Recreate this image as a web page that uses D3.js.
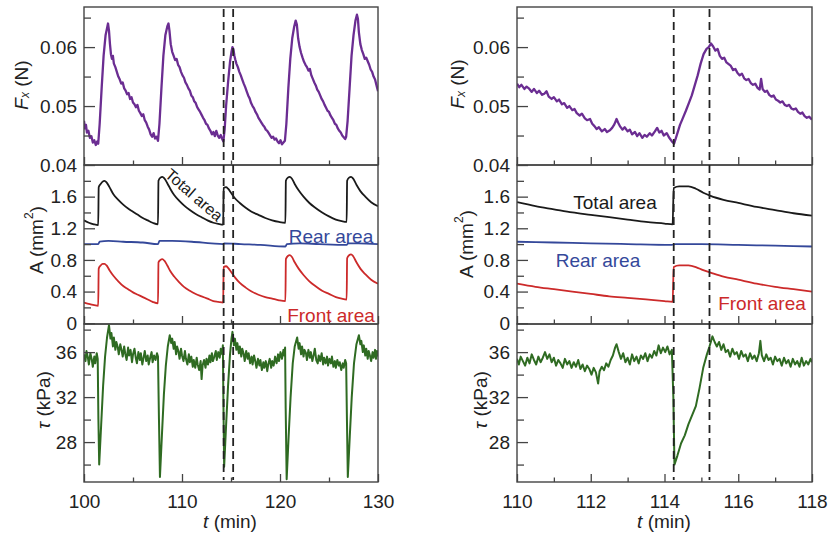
<!DOCTYPE html>
<html><head><meta charset="utf-8">
<script src="https://cdn.jsdelivr.net/npm/d3@7"></script>
<style>
body{margin:0;background:#fff}
svg{display:block}
text{font-family:"Liberation Sans",Arial,Helvetica,sans-serif}
</style>
</head><body>
<svg id="c" width="829" height="537"></svg>
<script>
// ---------- DATA ----------
const leftTimeTicks = [100, 110, 120, 130];
const leftTimeMinor = [105, 115, 125];
const rightTimeTicks = [110, 112, 114, 116, 118];
const rightTimeMinor = [111, 113, 115, 117];
const dashedTimes = [114.25, 115.22];

const fxTicks = [0.04, 0.05, 0.06];
const fxMinor = [0.045, 0.055, 0.065];
const areaTicks = [0, 0.4, 0.8, 1.2, 1.6];
const areaMinor = [0.2, 0.6, 1.0, 1.4, 1.8];
const tauTicks = [28, 32, 36];
const tauMinor = [26, 30, 34, 38];

const fxLeft = [[100.0,0.0475],[100.1,0.0462],[100.2,0.0468],[100.3,0.0455],[100.45,0.0458],[100.6,0.0446],[100.75,0.0449],[100.9,0.0438],[101.05,0.0442],[101.2,0.0434],[101.35,0.0440],[101.45,0.0436],
[101.6,0.0470],[101.8,0.0530],[102.0,0.0585],[102.2,0.0620],[102.35,0.0632],[102.45,0.0640],[102.55,0.0628],[102.65,0.0605],[102.75,0.0588],[102.85,0.0580],[102.95,0.0585],[103.05,0.0572],[103.2,0.0566],[103.35,0.0558],[103.5,0.0550],[103.65,0.0545],[103.8,0.0538],[103.95,0.0540],[104.1,0.0530],[104.25,0.0526],[104.4,0.0520],[104.55,0.0522],[104.7,0.0512],[104.85,0.0515],[105.0,0.0506],[105.15,0.0503],[105.3,0.0498],[105.45,0.0502],[105.6,0.0492],[105.75,0.0488],[105.9,0.0483],[106.05,0.0486],[106.2,0.0476],[106.35,0.0472],[106.5,0.0465],[106.65,0.0460],[106.8,0.0452],[106.95,0.0448],[107.1,0.0454],[107.25,0.0445],[107.4,0.0448],[107.55,0.0441],
[107.7,0.0470],[107.9,0.0530],[108.1,0.0585],[108.3,0.0620],[108.5,0.0635],[108.62,0.0640],[108.72,0.0628],[108.85,0.0605],[109.0,0.0592],[109.15,0.0585],[109.3,0.0578],[109.45,0.0580],[109.6,0.0570],[109.75,0.0566],[109.9,0.0558],[110.05,0.0552],[110.2,0.0548],[110.35,0.0540],[110.5,0.0536],[110.65,0.0530],[110.8,0.0526],[110.95,0.0518],[111.1,0.0515],[111.25,0.0508],[111.4,0.0505],[111.55,0.0498],[111.7,0.0494],[111.85,0.0490],[112.0,0.0485],[112.15,0.0480],[112.3,0.0476],[112.45,0.0470],[112.6,0.0468],[112.75,0.0462],[112.9,0.0458],[113.05,0.0452],[113.2,0.0456],[113.35,0.0449],[113.5,0.0458],[113.65,0.0450],[113.8,0.0446],[113.95,0.0451],[114.1,0.0444],[114.22,0.0440],
[114.35,0.0460],[114.5,0.0500],[114.7,0.0540],[114.9,0.0575],[115.05,0.0592],[115.15,0.0600],[115.25,0.0596],[115.35,0.0585],[115.45,0.0578],[115.55,0.0572],[115.7,0.0566],[115.85,0.0558],[116.0,0.0552],[116.15,0.0545],[116.3,0.0538],[116.45,0.0532],[116.6,0.0525],[116.75,0.0518],[116.9,0.0513],[117.05,0.0505],[117.2,0.0500],[117.35,0.0496],[117.5,0.0490],[117.65,0.0486],[117.8,0.0480],[117.95,0.0476],[118.1,0.0472],[118.25,0.0468],[118.4,0.0465],[118.55,0.0460],[118.7,0.0458],[118.85,0.0454],[119.0,0.0450],[119.15,0.0446],[119.3,0.0448],[119.45,0.0443],[119.6,0.0445],[119.75,0.0440],[119.9,0.0437],[120.05,0.0442],[120.2,0.0435],[120.35,0.0438],[120.5,0.0441],
[120.65,0.0470],[120.85,0.0530],[121.05,0.0580],[121.25,0.0615],[121.45,0.0635],[121.6,0.0645],[121.72,0.0638],[121.85,0.0615],[122.0,0.0600],[122.15,0.0590],[122.3,0.0582],[122.45,0.0575],[122.6,0.0570],[122.75,0.0566],[122.9,0.0560],[123.05,0.0563],[123.2,0.0552],[123.35,0.0546],[123.5,0.0540],[123.65,0.0535],[123.8,0.0528],[123.95,0.0524],[124.1,0.0518],[124.25,0.0512],[124.4,0.0508],[124.55,0.0502],[124.7,0.0497],[124.85,0.0492],[125.0,0.0490],[125.15,0.0484],[125.3,0.0480],[125.45,0.0476],[125.6,0.0470],[125.75,0.0468],[125.9,0.0462],[126.05,0.0458],[126.2,0.0455],[126.35,0.0450],[126.5,0.0447],[126.65,0.0444],[126.75,0.0448],
[126.9,0.0475],[127.1,0.0530],[127.3,0.0585],[127.5,0.0620],[127.7,0.0645],[127.85,0.0655],[127.95,0.0648],[128.05,0.0625],[128.2,0.0605],[128.35,0.0595],[128.5,0.0588],[128.65,0.0580],[128.8,0.0582],[128.95,0.0576],[129.1,0.0570],[129.25,0.0562],[129.4,0.0558],[129.55,0.0550],[129.7,0.0545],[129.85,0.0535],[130.0,0.0525]];

const totalLeft = [[100.0,1.30],[100.5,1.27],[101.0,1.25],[101.45,1.24],[101.5,1.72],[101.7,1.76],[101.9,1.79],[102.1,1.80],[102.3,1.78],[102.6,1.72],[103.0,1.63],[103.5,1.56],[104.0,1.50],[104.5,1.45],[105.0,1.41],[105.5,1.37],[106.0,1.33],[106.5,1.30],[107.0,1.27],[107.55,1.25],[107.6,1.80],[107.8,1.84],[108.0,1.85],[108.2,1.83],[108.5,1.77],[108.8,1.70],[109.2,1.62],[109.7,1.55],[110.2,1.49],[110.8,1.43],[111.4,1.38],[112.0,1.34],[112.6,1.30],[113.2,1.27],[113.7,1.255],[114.2,1.245],[114.25,1.71],[114.5,1.72],[114.7,1.70],[115.0,1.65],[115.4,1.58],[115.9,1.52],[116.5,1.46],[117.1,1.41],[117.8,1.37],[118.5,1.33],[119.2,1.30],[119.9,1.28],[120.55,1.27],[120.6,1.80],[120.8,1.84],[121.0,1.85],[121.2,1.83],[121.5,1.76],[121.9,1.68],[122.4,1.60],[123.0,1.52],[123.6,1.46],[124.3,1.40],[125.0,1.35],[125.7,1.31],[126.3,1.29],[126.8,1.28],[126.85,1.80],[127.05,1.84],[127.25,1.85],[127.45,1.83],[127.8,1.75],[128.2,1.67],[128.7,1.60],[129.3,1.53],[130.0,1.48]];

const rearLeft = [[100.0,1.00],[101.45,1.00],[101.6,1.03],[102.5,1.04],[104.0,1.03],[106.0,1.02],[107.55,1.00],[107.7,1.04],[109.0,1.04],[111.0,1.03],[113.0,1.01],[114.2,1.00],[114.3,1.01],[116.0,1.00],[118.0,0.99],[120.55,0.97],[120.7,1.00],[122.0,1.01],[124.0,1.00],[126.8,0.99],[126.95,1.01],[128.0,1.01],[130.0,1.00]];

const frontLeft = [[100.0,0.26],[100.6,0.24],[101.45,0.22],[101.5,0.69],[101.7,0.73],[101.9,0.75],[102.1,0.75],[102.3,0.73],[102.6,0.67],[103.0,0.60],[103.5,0.53],[104.0,0.47],[104.5,0.43],[105.0,0.39],[105.5,0.36],[106.0,0.33],[106.5,0.30],[107.0,0.27],[107.55,0.25],[107.6,0.77],[107.8,0.80],[108.0,0.81],[108.2,0.79],[108.5,0.73],[108.8,0.66],[109.2,0.59],[109.7,0.52],[110.2,0.46],[110.8,0.41],[111.4,0.37],[112.0,0.34],[112.6,0.31],[113.2,0.28],[113.7,0.27],[114.2,0.26],[114.25,0.71],[114.5,0.72],[114.7,0.70],[115.0,0.65],[115.4,0.58],[115.9,0.51],[116.5,0.45],[117.1,0.40],[117.8,0.36],[118.5,0.33],[119.2,0.31],[119.9,0.29],[120.55,0.28],[120.6,0.81],[120.8,0.85],[121.0,0.86],[121.2,0.84],[121.5,0.77],[121.9,0.69],[122.4,0.61],[123.0,0.53],[123.6,0.47],[124.3,0.41],[125.0,0.37],[125.7,0.33],[126.3,0.31],[126.8,0.30],[126.85,0.82],[127.05,0.86],[127.25,0.87],[127.45,0.85],[127.8,0.77],[128.2,0.69],[128.7,0.62],[129.3,0.55],[130.0,0.50]];

const tauLeft = [[100.0,35.8],[100.15,35.2],[100.25,36.1],[100.4,35.5],[100.5,34.9],[100.65,35.9],[100.8,35.3],[100.9,34.7],[101.05,35.6],[101.15,35.0],[101.3,35.9],[101.4,35.4],
[101.47,30.0],[101.55,26.0],[101.75,29.5],[101.95,33.0],[102.15,35.6],[102.35,37.3],[102.55,38.4],
[102.7,37.2],[102.8,37.7],[102.95,36.5],[103.05,37.3],[103.2,36.2],[103.3,36.9],[103.45,36.4],[103.55,35.8],[103.7,36.7],[103.85,36.1],[103.95,35.6],[104.1,36.5],[104.2,35.9],[104.35,35.3],[104.5,36.4],[104.6,35.7],[104.75,36.2],[104.9,35.1],[105.0,35.8],[105.15,36.3],[105.3,35.4],[105.4,35.0],[105.55,36.0],[105.7,35.3],[105.8,35.9],[105.95,34.9],[106.1,35.6],[106.2,36.1],[106.35,35.2],[106.5,35.7],[106.6,34.9],[106.75,35.5],[106.9,36.0],[107.0,35.1],[107.15,35.7],[107.3,35.3],[107.45,35.9],[107.55,35.6],
[107.65,30.0],[107.75,24.9],[107.95,28.6],[108.15,32.2],[108.35,34.8],[108.55,36.5],[108.75,37.5],
[108.9,36.8],[109.0,37.2],[109.15,36.3],[109.25,36.9],[109.4,35.8],[109.5,36.5],[109.65,36.0],[109.75,35.4],[109.9,36.3],[110.0,35.7],[110.15,35.2],[110.3,36.1],[110.4,35.4],[110.55,34.9],[110.7,35.8],[110.8,35.1],[110.95,35.6],[111.1,34.7],[111.2,35.3],[111.35,34.6],[111.5,35.5],[111.6,34.9],[111.75,34.4],[111.9,35.2],[112.0,33.6],[112.1,34.8],[112.25,35.3],[112.4,34.6],[112.5,35.4],[112.65,34.9],[112.8,35.7],[112.9,35.1],[113.05,35.9],[113.15,35.2],[113.3,35.6],[113.45,36.1],[113.55,35.3],[113.7,36.0],[113.85,35.5],[113.95,36.3],[114.1,35.8],[114.17,36.6],
[114.22,32.0],[114.3,25.8],[114.5,29.5],[114.7,33.0],[114.9,35.8],[115.05,37.2],[115.15,37.8],
[115.3,36.6],[115.4,37.2],[115.55,36.2],[115.65,36.8],[115.8,35.9],[115.9,36.5],[116.05,35.6],[116.15,36.3],[116.3,35.8],[116.4,35.2],[116.55,36.1],[116.7,35.4],[116.8,35.9],[116.95,35.0],[117.1,35.6],[117.2,34.9],[117.35,35.7],[117.5,35.1],[117.6,34.6],[117.75,35.4],[117.9,34.8],[118.0,35.3],[118.15,34.4],[118.3,35.1],[118.4,34.6],[118.55,35.2],[118.7,34.3],[118.8,34.9],[118.95,35.4],[119.1,34.6],[119.2,35.2],[119.35,34.8],[119.5,35.6],[119.65,35.0],[119.8,35.8],[119.9,35.2],[120.05,36.0],[120.2,35.4],[120.35,36.2],[120.45,35.7],[120.52,36.4],
[120.58,31.0],[120.68,24.7],[120.88,28.5],[121.08,32.0],[121.3,35.0],[121.5,36.5],[121.75,37.3],
[121.9,36.3],[122.0,36.8],[122.15,35.8],[122.25,36.5],[122.4,35.6],[122.5,36.2],[122.65,35.9],[122.75,35.3],[122.9,36.2],[123.05,35.5],[123.15,36.0],[123.3,35.2],[123.45,35.8],[123.55,36.3],[123.7,35.3],[123.85,35.0],[123.95,35.7],[124.1,35.2],[124.25,35.9],[124.4,34.9],[124.5,35.5],[124.65,35.0],[124.8,35.6],[124.9,34.8],[125.05,35.4],[125.2,35.0],[125.3,35.6],[125.45,34.7],[125.6,35.2],[125.7,34.6],[125.85,35.3],[126.0,34.8],[126.1,35.1],[126.25,34.4],[126.4,35.0],[126.5,34.6],[126.65,35.3],[126.75,35.0],
[126.83,30.0],[126.92,24.9],[127.12,28.5],[127.32,32.0],[127.55,35.0],[127.8,36.7],[128.05,37.5],
[128.2,36.7],[128.3,37.0],[128.45,36.0],[128.55,36.6],[128.7,35.7],[128.8,36.3],[128.95,35.4],[129.05,36.1],[129.2,35.6],[129.3,35.2],[129.45,36.0],[129.55,35.5],[129.7,36.2],[129.8,35.4],[129.9,36.1],[130.0,35.6]];

const fxRight = [[110.0,0.0538],[110.06,0.0532],[110.12,0.0536],[110.2,0.0529],[110.26,0.0533],[110.32,0.0530],[110.4,0.0524],[110.46,0.0529],[110.54,0.0522],[110.6,0.0526],[110.68,0.0519],[110.74,0.0521],[110.8,0.0525],[110.86,0.0516],[110.94,0.0512],[111.0,0.0515],[111.08,0.0508],[111.14,0.0511],[111.22,0.0503],[111.28,0.0505],[111.36,0.0497],[111.42,0.0500],[111.5,0.0493],[111.56,0.0495],[111.62,0.0488],[111.7,0.0484],[111.76,0.0487],[111.84,0.0479],[111.9,0.0476],[111.98,0.0478],[112.04,0.0470],[112.1,0.0466],[112.16,0.0461],[112.22,0.0464],[112.3,0.0457],[112.38,0.0461],[112.44,0.0456],[112.52,0.0459],[112.58,0.0463],[112.64,0.0469],[112.7,0.0478],[112.74,0.0472],[112.8,0.0465],[112.86,0.0460],[112.92,0.0464],[113.0,0.0457],[113.06,0.0460],[113.12,0.0452],[113.2,0.0456],[113.26,0.0449],[113.32,0.0454],[113.4,0.0446],[113.46,0.0451],[113.52,0.0448],[113.6,0.0454],[113.66,0.0450],[113.74,0.0457],[113.8,0.0463],[113.86,0.0455],[113.92,0.0458],[113.98,0.0450],[114.06,0.0454],[114.12,0.0447],[114.2,0.0440],
[114.26,0.0436],[114.34,0.0452],[114.42,0.0468],[114.5,0.0480],[114.58,0.0492],[114.66,0.0505],[114.74,0.0518],[114.82,0.0535],[114.9,0.0552],[114.98,0.0572],[115.06,0.0588],[115.14,0.0597],[115.2,0.0600],[115.26,0.0606],
[115.32,0.0601],[115.38,0.0594],[115.44,0.0597],[115.5,0.0585],[115.56,0.0580],[115.62,0.0582],[115.68,0.0574],[115.74,0.0571],[115.8,0.0568],[115.86,0.0561],[115.92,0.0563],[115.98,0.0556],[116.04,0.0552],[116.1,0.0555],[116.16,0.0547],[116.22,0.0544],[116.28,0.0546],[116.34,0.0539],[116.4,0.0536],[116.46,0.0538],[116.52,0.0531],[116.58,0.0528],[116.62,0.0546],[116.66,0.0529],[116.72,0.0524],[116.78,0.0526],[116.84,0.0519],[116.9,0.0516],[116.96,0.0518],[117.02,0.0511],[117.08,0.0509],[117.14,0.0506],[117.2,0.0508],[117.26,0.0502],[117.32,0.0500],[117.38,0.0502],[117.44,0.0496],[117.5,0.0494],[117.56,0.0496],[117.62,0.0490],[117.68,0.0487],[117.74,0.0489],[117.8,0.0483],[117.86,0.0480],[117.92,0.0482],[118.0,0.0477]];

const totalRight = [[110.0,1.53],[110.5,1.48],[111.0,1.44],[111.5,1.40],[112.0,1.37],[112.5,1.34],[113.0,1.31],[113.5,1.28],[114.0,1.26],[114.22,1.25],[114.25,1.71],[114.4,1.73],[114.65,1.73],[114.85,1.70],[115.05,1.65],[115.25,1.61],[115.6,1.56],[116.0,1.52],[116.5,1.47],[117.0,1.43],[117.5,1.39],[118.0,1.36]];
const rearRight = [[110.0,1.03],[111.0,1.02],[112.0,1.01],[113.0,1.00],[114.2,0.99],[114.3,1.00],[115.0,1.00],[116.0,0.99],[117.0,0.98],[118.0,0.97]];
const frontRight = [[110.0,0.50],[110.5,0.46],[111.0,0.43],[111.5,0.40],[112.0,0.37],[112.5,0.34],[113.0,0.32],[113.5,0.30],[114.0,0.28],[114.22,0.27],[114.25,0.71],[114.4,0.73],[114.65,0.73],[114.85,0.71],[115.05,0.67],[115.25,0.64],[115.6,0.59],[116.0,0.55],[116.5,0.50],[117.0,0.46],[117.5,0.43],[118.0,0.40]];

const tauRight = [[110.0,35.4],[110.05,34.9],[110.1,35.6],[110.16,35.2],[110.22,34.8],[110.28,35.5],[110.34,35.0],[110.4,35.8],[110.46,35.3],[110.52,34.9],[110.58,35.6],[110.64,35.1],[110.7,35.5],[110.76,36.0],[110.82,35.4],[110.88,35.8],[110.94,35.1],[111.0,35.5],[111.06,34.8],[111.12,35.3],[111.18,35.0],[111.24,34.6],[111.3,35.4],[111.36,34.9],[111.42,35.2],[111.48,34.6],[111.54,35.1],[111.6,34.7],[111.66,35.3],[111.72,34.5],[111.78,34.9],[111.84,34.3],[111.9,34.8],[111.96,34.5],[112.02,34.0],[112.08,34.6],[112.14,34.2],[112.2,33.2],[112.24,34.3],[112.3,34.7],[112.36,34.4],[112.42,35.0],[112.48,34.7],[112.54,35.3],[112.6,35.7],[112.66,36.4],[112.7,36.7],[112.76,36.0],[112.82,35.4],[112.88,35.9],[112.94,35.1],[113.0,35.5],[113.06,34.9],[113.12,35.8],[113.18,35.2],[113.24,35.6],[113.3,35.0],[113.36,35.7],[113.42,35.4],[113.48,35.9],[113.54,35.2],[113.6,35.8],[113.66,35.5],[113.72,36.1],[113.78,35.7],[113.84,36.6],[113.9,35.9],[113.96,36.4],[114.02,36.0],[114.08,36.5],[114.14,35.8],[114.2,36.2],
[114.24,32.0],[114.27,26.0],[114.35,26.8],[114.45,27.9],[114.55,28.6],[114.65,29.6],[114.75,30.4],[114.85,31.2],[114.95,32.8],[115.05,34.6],[115.15,35.8],[115.22,36.5],
[115.3,37.4],[115.36,36.9],[115.42,36.5],[115.48,36.9],[115.54,36.2],[115.6,36.7],[115.66,36.0],[115.72,36.2],[115.78,35.6],[115.84,36.3],[115.9,35.8],[115.96,36.0],[116.02,35.4],[116.08,36.1],[116.14,35.6],[116.2,35.8],[116.26,35.2],[116.32,35.9],[116.38,35.4],[116.44,35.7],[116.5,35.2],[116.56,35.9],[116.6,37.0],[116.64,35.7],[116.7,35.2],[116.76,35.8],[116.82,35.3],[116.88,35.5],[116.94,34.9],[117.0,35.6],[117.06,35.2],[117.12,35.4],[117.18,34.8],[117.24,35.5],[117.3,35.0],[117.36,35.3],[117.42,34.7],[117.48,35.4],[117.54,34.9],[117.6,35.2],[117.66,34.7],[117.72,35.5],[117.78,34.8],[117.84,35.2],[117.9,34.9],[117.96,35.4],[118.0,35.1]];

// ---------- STYLE / LAYOUT ----------
const COL = {fx:"#6b2d92", total:"#1a1a1a", rear:"#34489a", front:"#cc2a2a", tau:"#2f6b22", axis:"#444", text:"#222"};
const rows = [{y0:7,y1:165},{y0:165,y1:324},{y0:324,y1:482}];
const panels = [
  {x0:84, x1:378, dom:[100,130], major:leftTimeTicks, minor:leftTimeMinor,
   fx:fxLeft, total:totalLeft, rear:rearLeft, front:frontLeft, tau:tauLeft,
   lab:{fx:[21,85], area:[36,240], tau:[43,400], t:[230,521]}},
  {x0:517, x1:812, dom:[110,118], major:rightTimeTicks, minor:rightTimeMinor,
   fx:fxRight, total:totalRight, rear:rearRight, front:frontRight, tau:tauRight,
   lab:{fx:[457,84], area:[466,244], tau:[480,400], t:[664,521]}}
];
const yDomains = [[0.04,0.0668],[-0.01,2.0],[24.45,38.5]];
const yMajor = [fxTicks, areaTicks, tauTicks];
const yMinor = [fxMinor, areaMinor, tauMinor];
const yFmt = [d3.format(".2f"), v => v===0 ? "0" : d3.format(".1f")(v), d3.format("d")];

const svg = d3.select("#c");
const defs = svg.append("defs");

panels.forEach((p, pi) => {
  const x = d3.scaleLinear().domain(p.dom).range([p.x0, p.x1]);
  const ys = rows.map((r, ri) => d3.scaleLinear().domain(yDomains[ri]).range([r.y1, r.y0]));

  rows.forEach((r, ri) => {
    const id = `clip${pi}_${ri}`;
    defs.append("clipPath").attr("id", id).append("rect")
      .attr("x", p.x0).attr("y", r.y0).attr("width", p.x1 - p.x0).attr("height", r.y1 - r.y0);
    const g = svg.append("g");
    const y = ys[ri];
    const line = d3.line().x(d => x(d[0])).y(d => y(d[1]));
    const plot = g.append("g").attr("clip-path", `url(#${id})`);
    if (ri === 0) {
      plot.append("path").datum(p.fx).attr("d", line).attr("fill","none").attr("stroke",COL.fx).attr("stroke-width",2.3).attr("stroke-linejoin","round");
    } else if (ri === 1) {
      [["total",COL.total],["rear",COL.rear],["front",COL.front]].forEach(([k,c]) => {
        plot.append("path").datum(p[k]).attr("d", d3.line().curve(d3.curveMonotoneX).x(d => x(d[0])).y(d => y(d[1])))
          .attr("fill","none").attr("stroke",c).attr("stroke-width",1.8);
      });
    } else {
      plot.append("path").datum(p.tau).attr("d", line).attr("fill","none").attr("stroke",COL.tau).attr("stroke-width",2).attr("stroke-linejoin","round");
    }

    const ya = g.append("g").attr("transform", `translate(${p.x0},0)`)
      .call(d3.axisLeft(y).tickValues(yMajor[ri]).tickSize(-11).tickPadding(7).tickFormat(yFmt[ri]));
    ya.select(".domain").remove();
    ya.selectAll("line").attr("stroke", COL.axis).attr("stroke-width", 1.3);
    ya.selectAll("text").attr("font-size", 19).attr("fill", COL.text).attr("font-family", "Liberation Sans, Arial, sans-serif");
    const ym = g.append("g").attr("transform", `translate(${p.x0},0)`)
      .call(d3.axisLeft(y).tickValues(yMinor[ri]).tickSize(-7).tickFormat(""));
    ym.select(".domain").remove();
    ym.selectAll("line").attr("stroke", COL.axis).attr("stroke-width", 1.3);

    const xa = g.append("g").attr("transform", `translate(0,${r.y1})`)
      .call(d3.axisBottom(x).tickValues(p.major).tickSize(-8).tickPadding(13)
        .tickFormat(ri === 2 ? d3.format("d") : ""));
    xa.select(".domain").remove();
    xa.selectAll("line").attr("stroke", COL.axis).attr("stroke-width", 1.3);
    xa.selectAll("text").attr("font-size", 19).attr("fill", COL.text).attr("font-family", "Liberation Sans, Arial, sans-serif");
    const xm = g.append("g").attr("transform", `translate(0,${r.y1})`)
      .call(d3.axisBottom(x).tickValues(p.minor).tickSize(-4.5).tickFormat(""));
    xm.select(".domain").remove();
    xm.selectAll("line").attr("stroke", COL.axis).attr("stroke-width", 1.3);

    g.append("rect").attr("x", p.x0).attr("y", r.y0).attr("width", p.x1 - p.x0).attr("height", r.y1 - r.y0)
      .attr("fill","none").attr("stroke", COL.axis).attr("stroke-width", 1.4);
  });

  dashedTimes.forEach(t => {
    svg.append("line").attr("x1", x(t)).attr("x2", x(t)).attr("y1", rows[0].y0 + 2).attr("y2", rows[2].y1 - 2)
      .attr("stroke", "#222").attr("stroke-width", 1.8).attr("stroke-dasharray", "8,5");
  });

  const rot = (pos) => svg.append("text").attr("transform", `translate(${pos[0]},${pos[1]}) rotate(-90)`)
    .attr("text-anchor","middle").attr("dominant-baseline","central").attr("font-size",19).attr("fill",COL.text);
  const tf = rot(p.lab.fx);
  tf.append("tspan").attr("font-style","italic").text("F");
  tf.append("tspan").attr("font-style","italic").attr("font-size",12).attr("dy",4).text("x");
  tf.append("tspan").attr("dy",-4).text(" (N)");
  const ta = rot(p.lab.area);
  ta.append("tspan").text("A (mm");
  ta.append("tspan").attr("font-size",12).attr("dy",-7).text("2");
  ta.append("tspan").attr("dy",7).text(")");
  const tt = rot(p.lab.tau);
  tt.append("tspan").attr("font-style","italic").text("τ");
  tt.append("tspan").text(" (kPa)");
  const tx = svg.append("text").attr("x", p.lab.t[0]).attr("y", p.lab.t[1]).attr("text-anchor","middle")
    .attr("dominant-baseline","central").attr("font-size",19).attr("fill",COL.text);
  tx.append("tspan").attr("font-style","italic").text("t");
  tx.append("tspan").text(" (min)");
});

const lab = (txt, xx, yy, col, size, rotate) => svg.append("text")
  .attr("transform", `translate(${xx},${yy})` + (rotate ? ` rotate(${rotate})` : ""))
  .attr("text-anchor","middle").attr("dominant-baseline","central")
  .attr("font-size", size).attr("fill", col).text(txt);
lab("Total area", 194, 195, COL.total, 16, 41);
lab("Rear area", 331, 236, COL.rear, 19);
lab("Front area", 331, 315, COL.front, 19);
lab("Total area", 615, 202, COL.total, 19);
lab("Rear area", 598, 260, COL.rear, 19);
lab("Front area", 762, 303, COL.front, 19);
</script>
</body></html>
